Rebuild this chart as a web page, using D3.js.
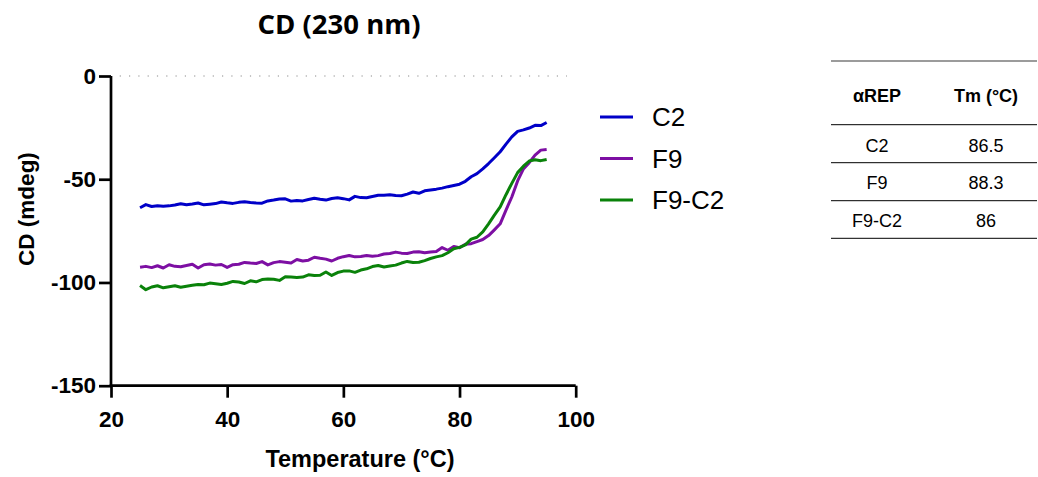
<!DOCTYPE html>
<html>
<head>
<meta charset="utf-8">
<script src="https://cdn.jsdelivr.net/npm/d3@7"></script>
<style>
  html, body { margin: 0; padding: 0; background: #fff; }
  svg { display: block; }
</style>
</head>
<body>
<svg id="chart" width="1038" height="477"></svg>
<script>
// ---------------- DATA ----------------
const temperature = d3.range(25, 96, 1); // °C, 25..95

const seriesNames = ["C2", "F9", "F9-C2"];

const c2Values = [
  -63.8, -62.3, -63.2, -62.8, -63.1, -62.9, -62.5, -61.9, -62.4, -62.0,
  -61.5, -62.4, -62.1, -61.8, -61.0, -61.4, -61.7, -61.2, -60.9, -61.3,
  -61.5, -61.6, -60.5, -60.1, -59.6, -59.5, -60.6, -60.3, -60.5, -59.8,
  -59.2, -59.7, -60.1, -59.3, -59.0, -59.4, -60.0, -58.3, -58.9, -59.0,
  -58.4, -57.8, -57.7, -57.5, -57.9, -58.0, -57.2, -56.2, -56.8, -55.6,
  -55.2, -54.8, -54.3, -53.6, -53.0, -52.4, -51.0, -48.8, -47.3, -45.0,
  -42.4, -39.6, -36.7, -33.0, -29.5, -26.8, -26.1, -25.2, -23.9, -24.0,
  -22.5
];

const f9Values = [
  -92.6, -92.2, -92.8, -91.9, -93.0, -91.4, -92.2, -92.4, -91.8, -91.2,
  -93.0, -91.4, -91.1, -91.6, -91.3, -92.7, -91.4, -91.2, -90.3, -90.6,
  -90.8, -89.9, -91.5, -90.4, -89.9, -90.2, -90.6, -88.9, -89.6, -89.2,
  -87.8, -88.3, -88.7, -89.6, -88.3, -87.5, -86.9, -87.6, -87.4, -86.9,
  -87.3, -87.0, -86.2, -86.0, -85.3, -85.8, -86.0, -85.3, -85.1, -85.6,
  -85.2, -85.0, -83.1, -84.4, -82.6, -83.2, -81.5, -81.2, -80.2, -79.2,
  -77.3, -74.5, -71.6, -65.0, -58.6, -50.8, -45.0, -42.0, -38.3, -35.9,
  -35.6
];

const f9c2Values = [
  -101.5, -103.5, -102.2, -101.6, -102.6, -102.1, -101.6, -102.3, -101.8, -101.4,
  -101.0, -101.1, -100.3, -100.6, -101.0, -100.4, -99.5, -99.8, -100.5, -99.2,
  -99.7, -98.6, -98.3, -98.4, -99.0, -97.2, -97.4, -97.6, -97.4, -96.3,
  -96.6, -96.5, -94.9, -96.6, -95.2, -94.5, -94.4, -95.1, -94.0, -93.4,
  -92.3, -91.8, -92.5, -92.0, -91.6, -90.6, -89.8, -90.3, -90.2, -89.4,
  -88.4, -87.6, -87.0, -85.6, -83.7, -83.0, -81.8, -79.0, -78.1, -75.5,
  -71.6, -67.4, -63.4, -57.5, -52.0, -46.8, -43.7, -41.2, -40.6, -41.0,
  -40.4
];

const xTicks = [20, 40, 60, 80, 100];
const yTicks = [0, -50, -100, -150];

const tableHeader = ["αREP", "Tm (°C)"];
const tableVariants = ["C2", "F9", "F9-C2"];
const tableTm = ["86.5", "88.3", "86"];

// ---------------- STYLE ----------------
const colors = ["#0000c8", "#7d0fa3", "#0a820a"];
const seriesValues = [c2Values, f9Values, f9c2Values];
const axisFont = "'Liberation Sans', Arial, sans-serif";

const svg = d3.select("#chart");

const x = d3.scaleLinear().domain([20, 100]).range([111, 575.7]);
const y = d3.scaleLinear().domain([-150, 0]).range([385.7, 76]);

// Title
svg.append("text")
  .attr("x", 339).attr("y", 34)
  .attr("text-anchor", "middle")
  .style("font-family", "'Open Sans', sans-serif")
  .style("font-weight", "bold")
  .style("font-size", "27.5px")
  .text("CD (230 nm)");

// Zero dotted line
svg.append("line")
  .attr("x1", x(21.5)).attr("x2", x(98.5))
  .attr("y1", y(0)).attr("y2", y(0))
  .attr("stroke", "#8a8a8a")
  .attr("stroke-width", 1)
  .attr("stroke-dasharray", "1.2 8.1");

// Axes
const fmt = d => String(d);
const xAxis = svg.append("g")
  .attr("transform", `translate(0,${y(-150)})`)
  .call(d3.axisBottom(x).tickValues(xTicks).tickFormat(fmt).tickSize(12).tickPadding(13).tickSizeOuter(0));
const yAxis = svg.append("g")
  .attr("transform", `translate(${x(20)},0)`)
  .call(d3.axisLeft(y).tickValues(yTicks).tickFormat(fmt).tickSize(12).tickPadding(3).tickSizeOuter(0));

[xAxis, yAxis].forEach(g => {
  g.select(".domain").attr("stroke", "#000").attr("stroke-width", 2.7);
  g.selectAll(".tick line").attr("stroke", "#000").attr("stroke-width", 2.7);
  g.selectAll(".tick text")
    .attr("fill", "#000")
    .style("font-family", axisFont)
    .style("font-weight", "bold")
    .style("font-size", "22.5px");
});
xAxis.select(".domain").attr("d", `M${x(20) - 1.35},0H${x(100)}`);
yAxis.select(".domain").attr("d", `M0,${y(0)}V${y(-150) + 1.35}`);

// Axis titles
svg.append("text")
  .attr("x", 360).attr("y", 467)
  .attr("text-anchor", "middle")
  .style("font-family", axisFont)
  .style("font-weight", "bold")
  .style("font-size", "23.5px")
  .text("Temperature (°C)");

svg.append("text")
  .attr("transform", `translate(34,209) rotate(-90)`)
  .attr("text-anchor", "middle")
  .style("font-family", axisFont)
  .style("font-weight", "bold")
  .style("font-size", "22.5px")
  .text("CD (mdeg)");

// Lines
const line = d3.line()
  .x((d, i) => x(temperature[i]))
  .y(d => y(d));

seriesValues.forEach((vals, k) => {
  svg.append("path")
    .datum(vals)
    .attr("fill", "none")
    .attr("stroke", colors[k])
    .attr("stroke-width", 3)
    .attr("stroke-linejoin", "round")
    .attr("d", line);
});

// Legend
const legend = svg.append("g");
seriesNames.forEach((name, k) => {
  const ly = 117 + k * 41.5;
  legend.append("line")
    .attr("x1", 600).attr("x2", 633)
    .attr("y1", ly).attr("y2", ly)
    .attr("stroke", colors[k]).attr("stroke-width", 3);
  legend.append("text")
    .attr("x", 652).attr("y", ly + 9.3)
    .style("font-family", axisFont)
    .style("font-size", "26px")
    .text(name);
});

// Table
const tbl = svg.append("g");
const tx0 = 831, tx1 = 1037;
const col1 = 877, col2 = 986;
tbl.append("line").attr("x1", tx0).attr("x2", tx1).attr("y1", 61).attr("y2", 61)
  .attr("stroke", "#7a7a7a").attr("stroke-width", 1.3);
tableHeader.forEach((h, i) => {
  tbl.append("text")
    .attr("x", i === 0 ? col1 : col2).attr("y", 101.5)
    .attr("text-anchor", "middle")
    .style("font-family", axisFont)
    .style("font-weight", "bold")
    .style("font-size", "18px")
    .text(h);
});
const rowLines = [124.7, 162.7, 200.7, 238.3];
rowLines.forEach(ry => {
  tbl.append("line").attr("x1", tx0).attr("x2", tx1).attr("y1", ry).attr("y2", ry)
    .attr("stroke", "#000").attr("stroke-width", 1);
});
tableVariants.forEach((v, r) => {
  const ry = 151.5 + r * 37.6;
  tbl.append("text").attr("x", col1).attr("y", ry).attr("text-anchor", "middle")
    .style("font-family", axisFont).style("font-size", "18px").text(v);
  tbl.append("text").attr("x", col2).attr("y", ry).attr("text-anchor", "middle")
    .style("font-family", axisFont).style("font-size", "18px").text(tableTm[r]);
});
</script>
</body>
</html>
